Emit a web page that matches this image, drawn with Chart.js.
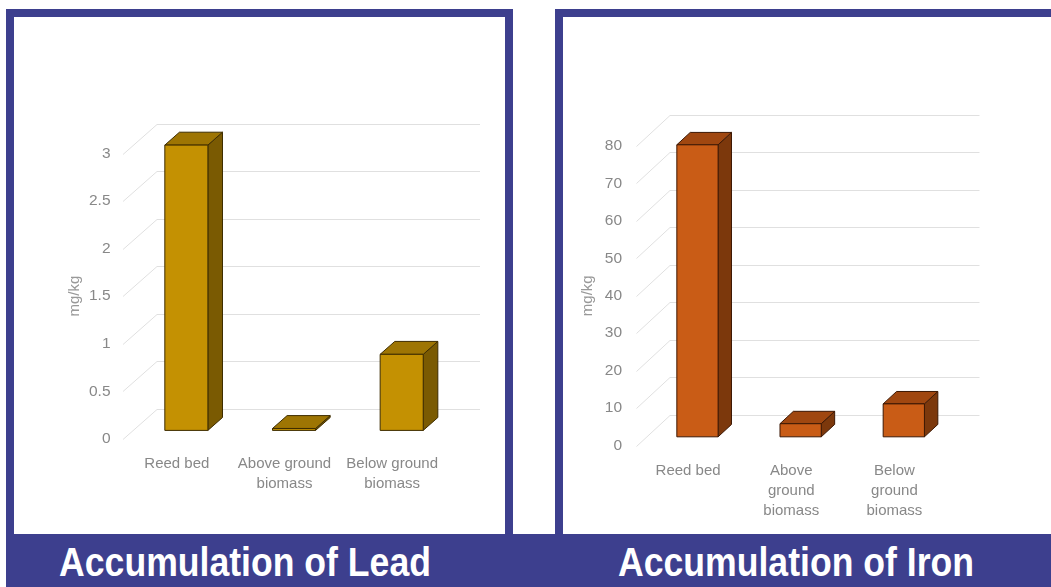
<!DOCTYPE html>
<html>
<head>
<meta charset="utf-8">
<script src="https://cdn.jsdelivr.net/npm/chart.js@4"></script>
<style>
  html, body { margin: 0; padding: 0; background: #fff; overflow: hidden; }
  body { width: 1051px; height: 587px; position: relative; font-family: 'Liberation Sans', Arial, sans-serif; }
  .panel { position: absolute; box-sizing: border-box; border: 8px solid #3d3f8e; background: #fff; }
  .band { position: absolute; left: 6px; top: 534px; width: 1045px; height: 53px; background: #3d3f8e; }
  .title { position: absolute; top: 542px; width: 500px; text-align: center; color: #fff;
           font-weight: bold; font-size: 40px; line-height: 40px; transform: scaleX(0.89); white-space: nowrap; }
  canvas { position: absolute; }
</style>
</head>
<body>
<div class="panel" style="left:6px; top:9px; width:507px; height:540px;"></div>
<div class="panel" style="left:555px; top:9px; width:510px; height:540px;"></div>
<canvas id="leadChart" width="491" height="516" style="left:14px; top:18px;"></canvas>
<canvas id="ironChart" width="488" height="516" style="left:563px; top:18px;"></canvas>
<div class="band"></div>
<div class="title" style="left:-5px;">Accumulation of Lead</div>
<div class="title" style="left:546px;">Accumulation of Iron</div>

<script>
// data
const leadCategories = ['Reed bed', ['Above ground', 'biomass'], ['Below ground', 'biomass']];
const leadValues = [3.0, 0.02, 0.8];
const leadTicks = [0, 0.5, 1, 1.5, 2, 2.5, 3];

const ironCategories = ['Reed bed', ['Above', 'ground', 'biomass'], ['Below', 'ground', 'biomass']];
const ironValues = [78, 3.5, 8.8];
const ironTicks = [0, 10, 20, 30, 40, 50, 60, 70, 80];

// 3D look: back wall grid + boxes drawn from the bar elements
const box3d = {
    id: 'box3d',
    beforeDatasetsDraw(chart, args, opts) {
        const { ctx, chartArea: a } = chart;
        const y = chart.scales.y;
        const [dx, dy] = opts.depth;
        ctx.save();
        ctx.strokeStyle = '#e0e0e0';
        ctx.lineWidth = 1;
        y.ticks.forEach(t => {
            const py = Math.round(y.getPixelForValue(t.value)) + 0.5;
            ctx.beginPath();
            ctx.moveTo(a.left, py);
            ctx.lineTo(a.left + dx, py + dy);
            ctx.lineTo(a.right + dx, py + dy);
            ctx.stroke();
        });
        ctx.restore();
    },
    afterDatasetsDraw(chart, args, opts) {
        const { ctx } = chart;
        const [dx, dy] = opts.depth;
        const fx = dx * opts.shift, fy = dy * opts.shift;
        const bx = dx * opts.thick, by = dy * opts.thick;
        const poly = (pts, fill) => {
            ctx.beginPath();
            pts.forEach((p, i) => i ? ctx.lineTo(p[0], p[1]) : ctx.moveTo(p[0], p[1]));
            ctx.closePath();
            ctx.fillStyle = fill;
            ctx.fill();
            ctx.stroke();
        };
        ctx.save();
        ctx.strokeStyle = opts.stroke;
        ctx.lineWidth = 1;
        ctx.lineJoin = 'round';
        chart.getDatasetMeta(0).data.forEach(bar => {
            const { x, y, base, width } = bar.getProps(['x', 'y', 'base', 'width'], true);
            const x0 = x - width / 2 + fx, x1 = x + width / 2 + fx;
            const y0 = y + fy, y1 = base + fy;
            poly([[x1, y1], [x1 + bx, y1 + by], [x1 + bx, y0 + by], [x1, y0]], opts.side);
            poly([[x0, y0], [x0 + bx, y0 + by], [x1 + bx, y0 + by], [x1, y0]], opts.top);
            poly([[x0, y0], [x1, y0], [x1, y1], [x0, y1]], opts.face);
        });
        ctx.restore();
    }
};

const font = { family: "'Liberation Sans', Arial, sans-serif", size: 15.5 };

function buildChart(id, labels, values, ticks, max, cfg) {
    return new Chart(document.getElementById(id), {
        type: 'bar',
        data: {
            labels: labels,
            datasets: [{
                data: values,
                backgroundColor: 'rgba(0,0,0,0)',
                borderWidth: 0,
                barPercentage: 0.4,
                categoryPercentage: 1
            }]
        },
        options: {
            responsive: false,
            animation: false,
            events: [],
            layout: { padding: cfg.padding },
            plugins: {
                legend: { display: false },
                tooltip: { enabled: false },
                box3d: cfg.box
            },
            scales: {
                x: {
                    grid: { display: false, drawTicks: false },
                    border: { display: false },
                    ticks: { color: '#888', font: { ...font, size: 15, lineHeight: 1.33 }, padding: 15, maxRotation: 0, autoSkip: false },
                    afterFit: s => { s.height = 70; }
                },
                y: {
                    min: 0,
                    max: max,
                    grid: { display: false, drawTicks: false },
                    border: { display: false },
                    ticks: { color: '#888', font: font, padding: cfg.tickPad, callback: v => String(v) },
                    afterBuildTicks: s => { s.ticks = ticks.map(v => ({ value: v })); },
                    afterFit: s => { s.width = cfg.axisWidth; },
                    title: { display: true, text: 'mg/kg', color: '#999', font: { ...font, size: 15 }, padding: { top: cfg.titlePad, bottom: 0 } }
                }
            }
        },
        plugins: [box3d]
    });
}

buildChart('leadChart', leadCategories, leadValues, leadTicks, 3, {
    padding: { left: 40, right: 59, top: 135.5, bottom: 25.2 },
    axisWidth: 69,
    tickPad: 12.5,
    titlePad: 12,
    box: { depth: [34, -30], shift: 0.28, thick: 0.43,
           face: '#c49102', side: '#7a5a02', top: '#9e7503', stroke: '#3e2d00' }
});

buildChart('ironChart', ironCategories, ironValues, ironTicks, 80, {
    padding: { left: 0, right: 105, top: 128, bottom: 18.5 },
    axisWidth: 73.5,
    tickPad: 14.5,
    titlePad: 16,
    box: { depth: [33.5, -31], shift: 0.28, thick: 0.4,
           face: '#c95c16', side: '#7c380c', top: '#a04710', stroke: '#3d1804' }
});
</script>
</body>
</html>
